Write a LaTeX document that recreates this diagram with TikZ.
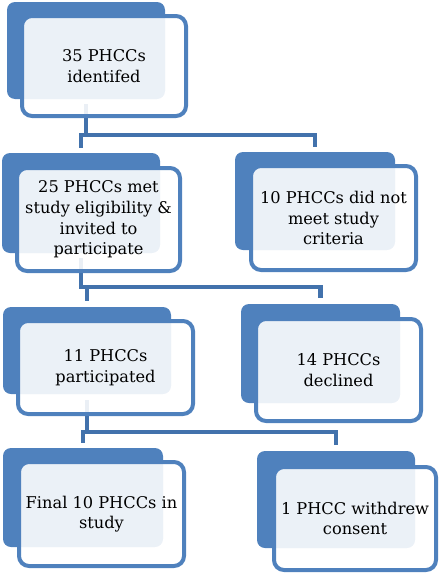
\documentclass[tikz,border=0pt]{standalone}
\usepackage{fontspec}
\setmainfont{DejaVu Serif}
\usepackage{tikz}

\definecolor{boxblue}{RGB}{79,129,189}
\definecolor{linkblue}{RGB}{66,114,172}

\begin{document}
\begin{tikzpicture}[x=1pt,y=-1pt,every node/.append style={align=center,inner sep=0pt,outer sep=0pt},
    back/.style={fill=boxblue, rounded corners=8pt},
    front/.style={draw=boxblue, line width=4pt, fill=white, fill opacity=0.89, text opacity=1, rounded corners=10pt, font=\fontsize{16.2}{20.6}\selectfont},
    link/.style={draw=linkblue, line width=4.5pt, line cap=rect}]
        \useasboundingbox (0,0) rectangle (439,573);

        \node [back, minimum width=158pt, minimum height=97pt] (b1) at (86,50.5) {};
        \node [back, minimum width=158pt, minimum height=100pt] (b2l) at (81,203) {};
        \node [back, minimum width=160pt, minimum height=98pt] (b2r) at (315,201) {};
        \node [back, minimum width=168pt, minimum height=87pt] (b3l) at (87,350.5) {};
        \node [back, minimum width=159pt, minimum height=99pt] (b3r) at (320.5,353.5) {};
        \node [back, minimum width=160pt, minimum height=99pt] (b4l) at (83,497.5) {};
        \node [back, minimum width=158pt, minimum height=97pt] (b4r) at (336,499.5) {};

        \coordinate (h1) at (b1.south |- 0,135);
        \coordinate (h2) at (b2l.south |- 0,287);
        \coordinate (h3) at (b3l.south |- 0,432);

        \path[link] ([yshift=-7pt]b1.south) -- (h1);
        \path[link] ([yshift=7pt]b2l.north) |- (h1) -| ([yshift=7pt]b2r.north);
        \path[link] ([yshift=-7pt]b2l.south) -- (h2);
        \path[link] ([yshift=8pt]b3l.north) |- (h2) -| ([yshift=8pt]b3r.north);
        \path[link] ([yshift=-8pt]b3l.south) -- (h3);
        \path[link] ([yshift=7pt]b4l.north) |- (h3) -| ([yshift=8pt]b4r.north);

        \node [front, minimum width=164pt, minimum height=100pt] (f1) at (104,66) {35 PHCCs\\identifed};
        \node [front, minimum width=163pt, minimum height=103pt] (f2l) at (98.5,219.5) {25 PHCCs met\\study eligibility \&\\invited to\\participate};
        \node [front, minimum width=165pt, minimum height=104pt] (f2r) at (333.5,218) {10 PHCCs did not\\meet study\\criteria};
        \node [front, minimum width=175pt, minimum height=93pt] (f3l) at (105.5,367.5) {11 PHCCs\\participated};
        \node [front, minimum width=165pt, minimum height=102pt] (f3r) at (338.5,370) {14 PHCCs\\declined};
        \node [front, minimum width=165pt, minimum height=104pt] (f4l) at (101.5,514) {Final 10 PHCCs in\\study};
        \node [front, minimum width=162pt, minimum height=103pt] (f4r) at (355,518.5) {1 PHCC withdrew\\consent};
    \end{tikzpicture}
\end{document}
